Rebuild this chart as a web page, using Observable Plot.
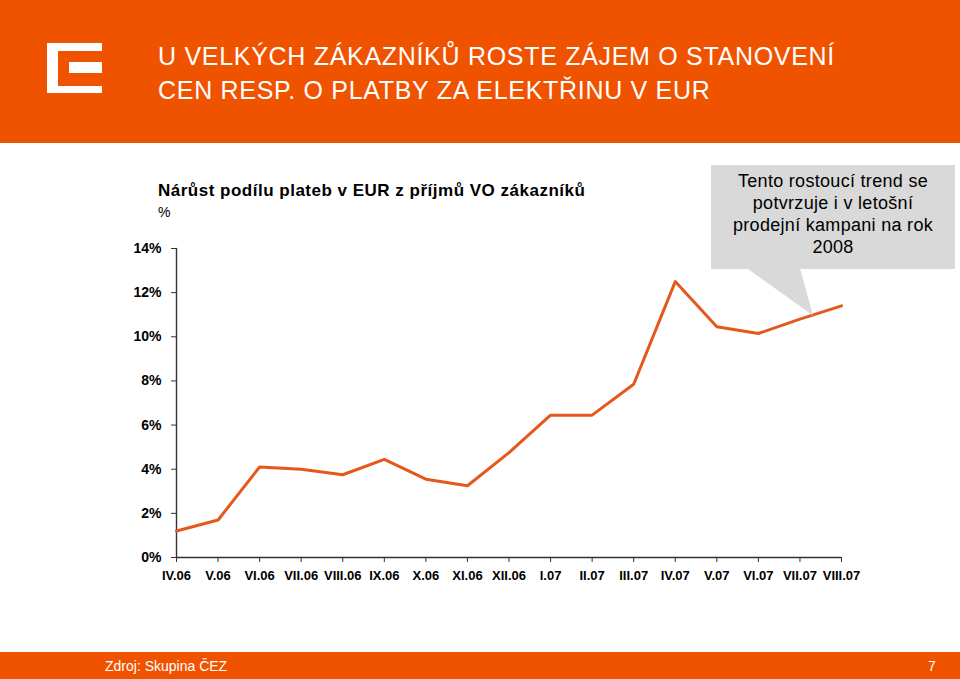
<!DOCTYPE html>
<html><head><meta charset="utf-8">
<script src="https://cdn.jsdelivr.net/npm/d3@7"></script>
<script src="https://cdn.jsdelivr.net/npm/@observablehq/plot@0.6"></script>
<style>
html,body{margin:0;padding:0;background:#fff;}
body{width:960px;height:679px;position:relative;overflow:hidden;font-family:"Liberation Sans",Arial,sans-serif;}
.abs{position:absolute;}
#header{left:0;top:0;width:960px;height:143px;background:#F05300;}
.logo{position:absolute;background:#fff;}
#title{left:158px;top:39px;color:#fff;font-size:25px;line-height:34px;letter-spacing:0.7px;white-space:nowrap;}
#ctitle{left:158px;top:181px;font-size:17px;line-height:20px;font-weight:bold;letter-spacing:0.5px;color:#000;white-space:nowrap;}
#cunit{left:158px;top:204px;font-size:14px;line-height:16px;color:#000;}
#chart{left:0;top:150px;}
#callout{left:711px;top:165px;width:244px;height:104px;background:#D9D9D9;box-sizing:border-box;padding-top:5px;text-align:center;font-size:18px;line-height:22px;letter-spacing:0.3px;color:#000;z-index:2;}
#pointer{left:0;top:0;z-index:2;}
#footer{left:0;top:652px;width:960px;height:27px;background:#F05300;color:#fff;font-family:"Liberation Sans Narrow","Arial Narrow","Liberation Sans",sans-serif;font-size:14px;line-height:28px;}
</style></head><body>
<div id="header" class="abs">
  <div class="logo" style="left:47px;top:43px;width:55px;height:8px"></div>
  <div class="logo" style="left:47px;top:43px;width:11px;height:50px"></div>
  <div class="logo" style="left:47px;top:86px;width:55px;height:7px"></div>
  <div class="logo" style="left:69px;top:62px;width:33px;height:11px"></div>
</div>
<div id="title" class="abs">U VELKÝCH ZÁKAZNÍKŮ ROSTE ZÁJEM O STANOVENÍ<br>CEN RESP. O PLATBY ZA ELEKTŘINU V EUR</div>
<div id="ctitle" class="abs">Nárůst podílu plateb v EUR z příjmů VO zákazníků</div>
<div id="cunit" class="abs">%</div>
<div id="chart" class="abs"></div>
<svg id="pointer" class="abs" width="960" height="679" style="pointer-events:none"><polygon points="746.5,268 800,268 813,315.5" fill="#D9D9D9"/></svg>
<div id="callout" class="abs">Tento rostoucí trend se<br>potvrzuje i v letošní<br>prodejní kampani na rok<br>2008</div>
<div id="footer" class="abs"><span style="position:absolute;left:105px">Zdroj: Skupina ČEZ</span><span style="position:absolute;left:928px">7</span></div>
<script>
const months = ["IV.06","V.06","VI.06","VII.06","VIII.06","IX.06","X.06","XI.06","XII.06","I.07","II.07","III.07","IV.07","V.07","VI.07","VII.07","VIII.07"];
const shares = [1.2,1.7,4.1,4.0,3.75,4.45,3.55,3.25,4.75,6.45,6.45,7.85,12.5,10.45,10.15,10.8,11.4];
const yTicks = [0,2,4,6,8,10,12,14];

const data = months.map((m,i)=>({m, v: shares[i]}));
const yAxisLine = [{m: months[0], v: yTicks[0]}, {m: months[0], v: yTicks[yTicks.length - 1]}];

const chart = Plot.plot({
  width: 960, height: 450,
  marginLeft: 176, marginRight: 119, marginTop: 98, marginBottom: 43,
  style: {fontFamily: "Liberation Sans, Arial, sans-serif", color: "#000", background: "transparent", overflow: "visible"},
  x: {type: "point", domain: months, padding: 0, inset: 0, round: false},
  y: {domain: [0, 14]},
  marks: [
    Plot.axisY({ticks: yTicks, tickFormat: d => d + "%", tickSize: 5, tickPadding: 10, fontSize: 14, fontWeight: "bold", label: null, stroke: "#333"}),
    Plot.axisX({tickSize: 5, tickPadding: 8, fontSize: 13, fontWeight: "bold", label: null, stroke: "#333"}),
    Plot.line(yAxisLine, {x: "m", y: "v", stroke: "#333", strokeWidth: 1.4}),
    Plot.ruleY([0], {stroke: "#333", strokeWidth: 1.4}),
    Plot.line(data, {x: "m", y: "v", stroke: "#E5581B", strokeWidth: 3})
  ]
});
document.getElementById("chart").appendChild(chart);
</script>
</body></html>
